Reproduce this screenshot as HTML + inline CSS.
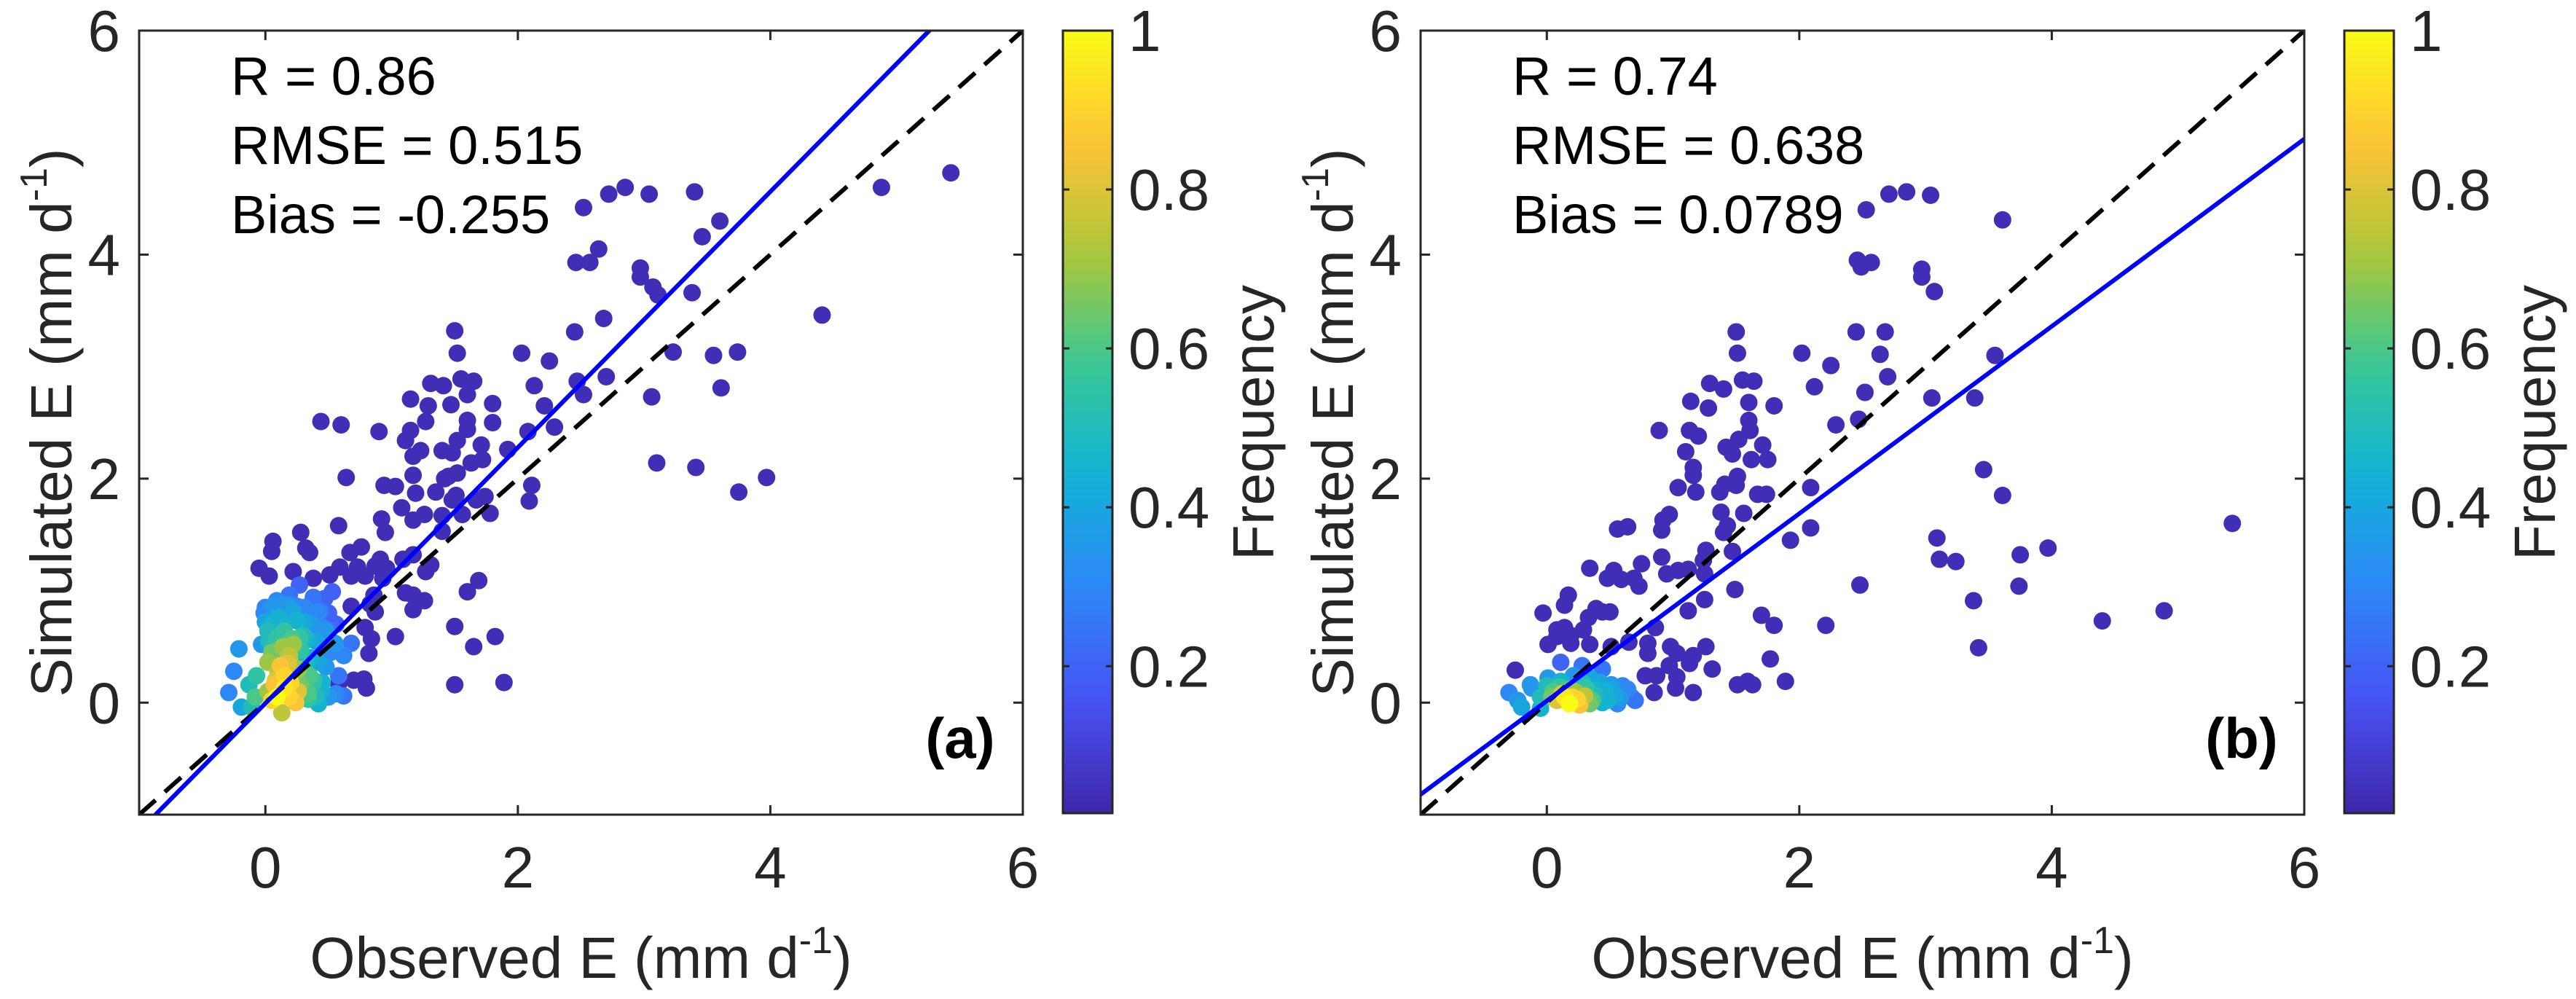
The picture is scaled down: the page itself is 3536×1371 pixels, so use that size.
<!DOCTYPE html>
<html><head><meta charset="utf-8"><style>
html,body{margin:0;padding:0;background:#fff}
svg{display:block;font-family:"Liberation Sans",Arial,sans-serif}
</style></head><body>
<svg id="fig" xmlns="http://www.w3.org/2000/svg" width="3536" height="1371" viewBox="0 0 3536 1371"></svg>
<script>
// ---- data: panel (a) ----
const aIsoX=[5.43,4.88,3.40,3.04,2.85,2.72,2.52,3.60,3.46,2.64,2.57,2.46,2.97,2.97,3.07,3.11,3.38,4.41,2.68,2.45,1.50,1.52,2.03,2.25,3.23,3.55,3.74,2.70,2.47,3.61,3.06,2.52,1.55,1.65,1.31,1.41,2.13,1.60,1.15,1.29,1.47,1.80,2.21,0.44,0.60,1.27,1.60,1.80,1.60,2.29,0.90,1.15,1.11,1.52,2.08,1.71,1.92,1.23,1.40,1.48,1.17,1.72,1.63,3.10,3.41,3.97,3.75,0.64,1.17,1.45,1.52,1.42,0.94,1.03,1.35,1.19,1.51,1.74,1.67,2.11,2.09,1.48,1.08,1.78,1.56,1.26,1.40,0.92,0.58,0.95,1.40,0.28,0.06,1.17,0.05,0.32,0.35,0.76,0.67,-0.05,0.22,0.03,0.59,0.73,0.91,0.87,0.96,1.17,1.09,1.31,1.27,0.38,0.51,0.68,0.79,0.93,1.69,1.60,1.11,1.17,1.26,1.17,0.86,0.83,0.87,0.68,0.79,0.84,1.03,0.82,1.50,1.82,1.65,1.50,1.89,0.78,0.80,0.70,0.58];
const aIsoY=[4.73,4.60,4.56,4.54,4.60,4.54,4.42,4.30,4.16,4.05,3.93,3.93,3.88,3.80,3.71,3.64,3.66,3.46,3.43,3.31,3.32,3.12,3.12,3.05,3.13,3.10,3.13,2.91,2.87,2.81,2.73,2.75,2.89,2.87,2.85,2.83,2.83,2.75,2.71,2.65,2.66,2.67,2.65,2.51,2.48,2.51,2.52,2.50,2.44,2.46,2.42,2.43,2.34,2.34,2.42,2.30,2.26,2.25,2.25,2.23,2.20,2.17,2.14,2.14,2.10,2.01,1.88,2.01,2.03,2.02,2.05,2.00,1.94,1.93,1.88,1.87,1.85,1.84,1.81,1.94,1.80,1.81,1.74,1.69,1.68,1.68,1.67,1.64,1.58,1.52,1.53,1.52,1.44,1.63,1.35,1.38,1.34,1.39,1.34,1.20,1.17,1.13,1.21,1.21,1.28,1.22,1.20,1.32,1.28,1.23,1.17,1.11,1.14,1.13,1.13,1.11,1.09,0.99,0.98,0.96,0.91,0.83,0.96,0.88,0.81,0.86,0.67,0.57,0.59,0.44,0.68,0.59,0.50,0.16,0.18,0.21,0.13,0.20,0.17];
const aCluX=[-0.21,-0.25,-0.29,-0.19,-0.13,-0.07,-0.03,-0.01,0.09,0.19,0.27,0.38,0.42,0.47,0.53,0.48,0.55,0.62,0.68,0.58,0.42,0.42,0.34,0.22,0.10,0.02,0.15,0.05,0.02,0.19,0.28,0.32,0.35,0.28,0.19,0.12,0.15,0.07,0.15,0.09,0.19,0.24,0.13,0.05,-0.08,-0.11,
 0.00,0.06,0.12,0.18,0.25,0.31,0.37,0.44,0.50,0.56,0.00,0.06,0.12,0.25,0.31,0.37,0.44,0.50,0.03,0.09,0.21,0.27,0.33,0.40,0.46,0.52,0.30,0.36,0.42,0.48,0.05,0.14,0.22,0.30,0.38,0.45,0.10,0.18,0.26,0.34,0.40,0.02,0.08,0.20,0.26,0.32,0.38,0.44,0.50,0.56,0.62];
const aCluY=[0.48,0.28,0.09,-0.04,0.16,0.24,0.52,0.80,0.91,0.96,1.05,0.94,0.81,0.93,0.99,0.64,0.53,0.42,0.53,0.24,0.13,-0.01,0.03,0.81,0.76,0.64,0.64,0.42,0.36,0.53,0.47,0.36,0.24,0.16,0.42,0.33,0.24,0.16,0.13,0.05,0.05,0.0,-0.09,0.02,0.05,-0.04,
 0.85,0.86,0.88,0.87,0.86,0.85,0.84,0.82,0.80,0.70,0.72,0.70,0.72,0.73,0.72,0.70,0.68,0.65,0.55,0.57,0.57,0.58,0.56,0.55,0.52,0.45,0.60,0.40,0.36,0.32,0.45,0.50,0.52,0.28,0.20,0.18,0.28,0.35,0.30,0.08,0.06,0.10,0.20,0.18,0.10,0.12,0.18,0.10,0.05,0.08,0.06];
const aCluF=[0.35,0.3,0.3,0.4,0.5,0.55,0.35,0.3,0.3,0.25,0.2,0.25,0.3,0.2,0.2,0.35,0.35,0.3,0.25,0.25,0.4,0.45,0.55,0.4,0.45,0.5,0.55,0.6,0.7,0.6,0.55,0.5,0.6,0.65,0.75,0.85,0.9,0.85,0.95,1.0,0.9,0.85,0.75,0.9,0.6,0.5,
 0.3,0.35,0.35,0.35,0.3,0.3,0.25,0.25,0.2,0.2,0.4,0.45,0.45,0.45,0.4,0.35,0.3,0.25,0.5,0.55,0.6,0.55,0.45,0.4,0.35,0.3,0.5,0.45,0.4,0.35,0.65,0.7,0.7,0.55,0.55,0.45,0.75,0.8,0.7,0.6,0.5,0.7,0.8,0.9,0.8,0.6,0.55,0.45,0.35,0.3,0.25];
const aFit=[1.142,-0.006];
const aStats=["R = 0.86","RMSE = 0.515","Bias = -0.255"];
// ---- data: panel (b) ----
const bIsoX=[5.43,4.89,4.40,3.97,3.75,3.74,3.38,3.42,3.61,3.46,3.09,3.11,3.24,3.39,3.55,3.61,3.04,2.85,2.71,2.53,2.46,2.57,2.49,2.97,2.97,3.07,2.45,2.68,2.64,2.70,2.52,3.05,2.47,2.48,2.21,2.25,2.02,2.12,2.29,2.09,2.09,1.93,1.80,1.77,1.70,1.89,1.63,1.51,1.59,1.50,1.51,1.29,1.40,1.55,1.64,1.60,1.14,1.28,1.80,0.89,1.13,1.20,1.60,1.61,1.52,1.42,1.47,1.71,1.75,1.62,1.10,1.16,1.16,1.04,1.18,1.37,1.41,1.51,1.50,1.67,1.74,1.56,1.38,1.43,1.40,1.47,1.26,0.97,0.92,0.91,0.56,0.64,0.91,0.95,1.04,1.12,1.24,1.25,0.75,0.34,0.53,0.48,0.59,0.69,0.73,1.49,1.25,1.12,0.17,0.14,-0.03,0.39,0.44,0.50,0.33,0.08,0.14,0.08,0.19,0.29,0.86,0.01,0.19,0.34,0.51,0.65,0.80,0.80,0.98,1.03,1.26,1.16,1.13,1.31,0.97,0.87,0.78,1.03,1.02,1.16,0.85,-0.25];
const bIsoY=[1.60,0.82,0.73,1.38,1.32,1.04,0.91,0.49,1.85,2.08,1.47,1.28,1.26,2.72,3.10,4.31,4.53,4.56,4.54,4.40,3.95,3.93,3.89,3.87,3.80,3.67,3.31,3.31,3.11,2.91,2.77,2.72,2.53,1.05,0.69,3.01,3.12,2.82,2.48,1.92,1.56,1.45,0.69,0.39,0.78,0.19,0.16,0.16,0.19,3.31,3.12,2.85,2.80,2.88,2.87,2.68,2.69,2.63,2.65,2.43,2.43,2.38,2.52,2.43,2.35,2.28,2.22,2.30,2.17,2.17,2.24,2.10,2.03,1.92,1.88,1.88,1.95,2.02,1.94,1.86,1.86,1.69,1.70,1.58,1.52,1.35,1.36,1.68,1.63,1.54,1.55,1.57,1.30,1.15,1.18,1.19,1.27,1.15,1.24,1.20,1.18,1.11,1.10,1.11,1.04,1.01,0.92,0.82,0.96,0.87,0.80,0.84,0.81,0.81,0.76,0.65,0.67,0.59,0.60,0.65,0.67,0.52,0.53,0.52,0.50,0.54,0.53,0.44,0.50,0.44,0.50,0.42,0.35,0.30,0.33,0.24,0.24,0.23,0.13,0.09,0.09,0.29];
const bCluX=[-0.30,-0.23,-0.20,-0.12,-0.05,-0.05,0.05,0.08,0.14,0.18,0.24,0.22,0.31,0.11,0.01,0.21,0.34,0.38,0.44,0.54,0.51,0.61,0.67,0.56,0.44,0.28,0.11,-0.13,
 0.00,0.10,0.16,0.28,0.40,0.48,0.58,0.64,0.70,0.04,0.12,0.20,0.30,0.36,0.46,0.52,0.60,0.26,0.34,0.42];
const bCluY=[0.09,0.02,-0.04,0.13,0.05,-0.05,0.10,0.02,0.05,-0.01,0.03,0.10,0.13,0.19,0.22,0.24,0.22,0.07,0.0,0.07,0.16,0.10,0.05,-0.01,0.30,0.33,0.36,0.16,
 0.15,0.14,0.12,0.18,0.12,0.02,0.04,0.12,0.02,0.05,0.08,0.05,0.06,0.02,0.10,0.12,0.15,-0.02,-0.01,0.18];
const bCluF=[0.3,0.35,0.4,0.35,0.5,0.45,0.6,0.8,0.95,1.0,0.9,0.7,0.55,0.45,0.35,0.35,0.4,0.5,0.45,0.4,0.35,0.3,0.25,0.3,0.25,0.25,0.2,0.35,
 0.5,0.55,0.6,0.5,0.45,0.45,0.35,0.3,0.25,0.65,0.8,0.9,0.75,0.6,0.45,0.4,0.3,0.85,0.65,0.4];
const bFit=[0.836,0.016];
const bStats=["R = 0.74","RMSE = 0.638","Bias = 0.0789"];
// ---- shared ----
const tickVals=[0,2,4,6];
const cbTicks=[0.2,0.4,0.6,0.8,1];
const cbTickLabels=["0.2","0.4","0.6","0.8","1"];
const isoFreq=0.04;

const NS="http://www.w3.org/2000/svg";
const svg=document.getElementById('fig');
function mk(tag,attrs,parent){const e=document.createElementNS(NS,tag);for(const k in attrs)e.setAttribute(k,attrs[k]);(parent||svg).appendChild(e);return e;}
const stops=[[0.2422,0.1504,0.6603],[0.2810,0.3228,0.9579],[0.1786,0.5289,0.9682],[0.0689,0.6948,0.8394],[0.2161,0.7843,0.5923],[0.6720,0.7793,0.2227],[0.9970,0.7659,0.2199],[0.9769,0.9839,0.0805]];
const CMIN=0.015;
function parula(t){t=Math.max(0,Math.min(1,t))*7;const i=Math.min(6,Math.floor(t)),f=t-i;const a=stops[i],b=stops[i+1];return 'rgb('+[0,1,2].map(k=>Math.round(255*(a[k]+(b[k]-a[k])*f))).join(',')+')';}
function fcol(v){return parula((v-CMIN)/(1-CMIN));}
const defs=mk('defs',{});
const lg=mk('linearGradient',{id:'cbg',x1:0,y1:1,x2:0,y2:0},defs);
for(let i=0;i<=20;i++){mk('stop',{offset:i/20,'stop-color':parula(i/20)},lg);}

function panel(ox,isoX,isoY,cluX,cluY,cluF,fit,stats,tag){
  const L=191+ox,R=1404+ox,T=42,B=1118;
  const sx=v=>L+(v+1)/7*(R-L), sy=v=>B-(v+1)/7*(B-T);
  const g=mk('g',{});
  
  
  const clipId='clip'+tag;
  const cp=mk('clipPath',{id:clipId},defs);mk('rect',{x:L,y:T,width:R-L,height:B-T},cp);
  const pg=mk('g',{'clip-path':'url(#'+clipId+')'},g);
  const pts=[];
  for(let i=0;i<isoX.length;i++)pts.push([isoX[i],isoY[i],isoFreq]);
  for(let i=0;i<cluX.length;i++)pts.push([cluX[i],cluY[i],cluF[i]]);
  pts.sort((a,b)=>a[2]-b[2]);
  for(const p of pts){const c=mk('circle',{cx:sx(p[0]),cy:sy(p[1]),r:12,fill:fcol(p[2])},pg);
    
    }
  const d=mk('line',{x1:sx(-1),y1:sy(-1),x2:sx(6),y2:sy(6),stroke:'#000','stroke-width':6,'stroke-dasharray':'30,17'},pg);
  
  
  const fl=mk('line',{x1:sx(-1),y1:sy(fit[0]*-1+fit[1]),x2:sx(6),y2:sy(fit[0]*6+fit[1]),stroke:'#0000ff','stroke-width':6},pg);
  
  
  const box=mk('rect',{x:L,y:T,width:R-L,height:B-T,fill:'none',stroke:'#262626','stroke-width':3},g);
  
  
  for(const v of tickVals){
    const x=sx(v),y=sy(v);
    mk('line',{x1:x,y1:B,x2:x,y2:B-13,stroke:'#262626','stroke-width':3},g);
    mk('line',{x1:x,y1:T,x2:x,y2:T+13,stroke:'#262626','stroke-width':3},g);
    mk('line',{x1:L,y1:y,x2:L+13,y2:y,stroke:'#262626','stroke-width':3},g);
    mk('line',{x1:R,y1:y,x2:R-13,y2:y,stroke:'#262626','stroke-width':3},g);
    const xt=mk('text',{x:x,y:1218,'font-size':80,fill:'#262626','text-anchor':'middle'},g);xt.textContent=v;
    
    
    const yt=mk('text',{x:L-26,y:y+28,'font-size':80,fill:'#262626','text-anchor':'end'},g);yt.textContent=v;
    
    
  }
  stats.forEach((s,i)=>{const t=mk('text',{x:317+ox,y:130+i*95,'font-size':74,fill:'#000'},g);t.textContent=s;
    
    });
  const pl=mk('text',{x:1318+ox,y:1040,'font-size':78,'font-weight':'bold',fill:'#000','text-anchor':'middle'},g);pl.textContent='('+tag+')';
  
  
  const xtl=mk('text',{x:(L+R)/2,y:1342,'font-size':80,fill:'#262626','text-anchor':'middle'},g);
  xtl.innerHTML='Observed E (mm d<tspan font-size="52" dy="-34">-1</tspan><tspan dy="34">)</tspan>';
  
  
  const ytl=mk('text',{x:0,y:0,'font-size':80,fill:'#262626','text-anchor':'middle',transform:'translate('+(98+ox)+',580) rotate(-90)'},g);
  ytl.innerHTML='Simulated E (mm d<tspan font-size="52" dy="-34">-1</tspan><tspan dy="34">)</tspan>';
  
  
  const cL=1459+ox,cR=1527+ox,cT=42,cB=1116;
  const cy=v=>cB-(v-CMIN)/(1-CMIN)*(cB-cT);
  const cb=mk('rect',{x:cL,y:cT,width:cR-cL,height:cB-cT,fill:'url(#cbg)',stroke:'#262626','stroke-width':3},g);
  
  
  cbTicks.forEach((v,i)=>{const y=cy(v);
    mk('line',{x1:cL,y1:y,x2:cL+9,y2:y,stroke:'#262626','stroke-width':3},g);
    mk('line',{x1:cR,y1:y,x2:cR-9,y2:y,stroke:'#262626','stroke-width':3},g);
    const t=mk('text',{x:cR+22,y:y+28,'font-size':80,fill:'#262626'},g);t.textContent=cbTickLabels[i];
    
    });
  const ct=mk('text',{x:0,y:0,'font-size':80,fill:'#262626','text-anchor':'middle',transform:'translate('+(1748+ox)+',580) rotate(-90)'},g);ct.textContent='Frequency';
  
  
}
panel(0,aIsoX,aIsoY,aCluX,aCluY,aCluF,aFit,aStats,'a');
panel(1759,bIsoX,bIsoY,bCluX,bCluY,bCluF,bFit,bStats,'b');
</script>
</body></html>
